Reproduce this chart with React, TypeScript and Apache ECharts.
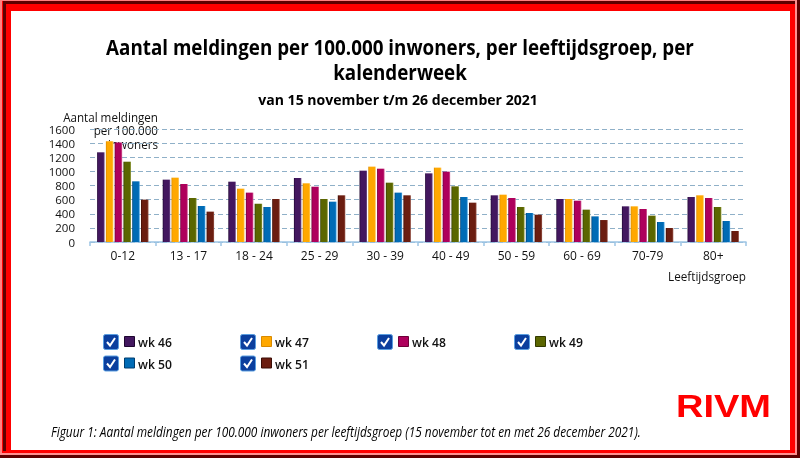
import React, { useEffect, useRef } from "react";
import * as echarts from "echarts";

const categories = ["0-12", "13 - 17", "18 - 24", "25 - 29", "30 - 39", "40 - 49", "50 - 59", "60 - 69", "70-79", "80+"];
const weeks = ["wk 46", "wk 47", "wk 48", "wk 49", "wk 50", "wk 51"];
const wk46 = [1270, 883, 854, 906, 1010, 972, 661, 609, 505, 637];
const wk47 = [1425, 911, 755, 831, 1067, 1053, 670, 609, 505, 661];
const wk48 = [1410, 821, 699, 783, 1038, 996, 623, 585, 467, 623];
const wk49 = [1137, 623, 543, 609, 840, 788, 496, 458, 373, 496];
const wk50 = [859, 510, 496, 571, 699, 637, 411, 363, 283, 297];
const wk51 = [600, 430, 609, 661, 661, 557, 387, 311, 198, 156];
const seriesValues = [wk46, wk47, wk48, wk49, wk50, wk51];
const colors = ["#43175f", "#ffa800", "#ae005c", "#5b6600", "#006bb5", "#6b1d10"];
const darkEdges = ["#1e0630", "#d98a00", "#6e0038", "#323a00", "#003d6e", "#3a0c05"];
const lightEdges = ["#7a5a92", "#ffd070", "#d76a9c", "#8e9a3a", "#4aa6e6", "#9a5a4e"];
const yTicks = { min: 0, max: 1600, interval: 200 };
const titleLine1 = "Aantal meldingen per 100.000 inwoners, per leeftijdsgroep, per";
const titleLine2 = "kalenderweek";
const subtitle = "van 15 november t/m 26 december 2021";
const yNameLines = ["Aantal meldingen", "per 100.000", "inwoners"];
const xName = "Leeftijdsgroep";
const footer = "Figuur 1: Aantal meldingen per 100.000 inwoners per leeftijdsgroep (15 november tot en met 26 december 2021).";
const logo = "RIVM";

function measure(text: string, font: string): number {
  const c = document.createElement("canvas").getContext("2d");
  if (!c) return text.length * 7;
  c.font = font;
  return c.measureText(text).width || text.length * 7;
}

function txt(text: string, x: number, y: number, opts: any) {
  const { size, weight = "normal", style = "normal", family = "'Open Sans'", align = "left", fill = "#111", scaleX = 1, z = 1 } = opts;
  return {
    type: "text",
    x,
    y,
    z,
    scaleX,
    style: {
      text,
      fontSize: size,
      fontWeight: weight,
      fontStyle: style,
      fontFamily: family,
      fill,
      textAlign: align,
      textVerticalAlign: "middle",
      align,
      verticalAlign: "middle",
    },
  };
}

export default function App() {
  const ref = useRef<HTMLDivElement>(null);
  useEffect(() => {
    if (!ref.current) return;
    const chart = echarts.init(ref.current, undefined, { renderer: "svg" });

    const titleScale = 588 / measure(titleLine1, "bold 21px 'Open Sans'");
    const subScale = 280 / measure(subtitle, "bold 15px 'Open Sans'");
    const yNameScale = 95 / measure(yNameLines[0], "normal 12.5px 'Open Sans'");
    const xNameScale = 78 / measure(xName, "normal 12.5px 'Open Sans'");
    const footScale = 590 / measure(footer, "italic normal 14px 'Open Sans'");
    const logoScale = 95 / measure(logo, "bold 32px 'Liberation Sans'");
    const legScale = 34 / measure(weeks[0], "600 13px 'Open Sans'");

    const frame = [
      { type: "rect", z: -10, shape: { x: 0, y: 0, width: 800, height: 458 }, style: { fill: "#ff0000" } },
      { type: "rect", z: -10, shape: { x: 0, y: 0, width: 800, height: 1 }, style: { fill: "#ff8080" } },
      { type: "rect", z: -10, shape: { x: 0, y: 0, width: 2, height: 458 }, style: { fill: "#ff8080" } },
      { type: "rect", z: -10, shape: { x: 3, y: 1, width: 792, height: 3 }, style: { fill: "#5e0000" } },
      { type: "rect", z: -10, shape: { x: 3, y: 1, width: 3, height: 450 }, style: { fill: "#5e0000" } },
      { type: "rect", z: -10, shape: { x: 0, y: 453, width: 797, height: 2 }, style: { fill: "#ff9090" } },
      { type: "rect", z: -10, shape: { x: 795, y: 0, width: 2, height: 455 }, style: { fill: "#ff9090" } },
      { type: "rect", z: -10, shape: { x: 0, y: 455, width: 800, height: 3 }, style: { fill: "#5e0000" } },
      { type: "rect", z: -10, shape: { x: 797, y: 0, width: 3, height: 458 }, style: { fill: "#5e0000" } },
      { type: "rect", z: -9, shape: { x: 11, y: 11, width: 779, height: 439 }, style: { fill: "#ffffff" } },
    ];

    const texts = [
      txt(titleLine1, 400, 47, { size: 21, weight: "bold", align: "center", scaleX: titleScale, fill: "#000" }),
      txt(titleLine2, 400, 72, { size: 21, weight: "bold", align: "center", scaleX: titleScale, fill: "#000" }),
      txt(subtitle, 398, 99, { size: 15, weight: "bold", align: "center", scaleX: subScale, fill: "#000" }),
      ...yNameLines.map((l, i) => txt(l, 158, 117 + i * 13.5, { size: 12.5, align: "right", scaleX: yNameScale, fill: "#111", z: 0 })),
      txt(xName, 746, 276, { size: 12.5, align: "right", scaleX: xNameScale }),
      txt(footer, 51, 432, { size: 14, style: "italic", align: "left", scaleX: footScale, fill: "#000" }),
      txt(logo, 676, 406, { size: 32, weight: "bold", family: "'Liberation Sans'", align: "left", scaleX: logoScale, fill: "#ff0000" }),
    ];

    const legend: any[] = [];
    weeks.forEach((w, i) => {
      const col = i % 4;
      const row = Math.floor(i / 4);
      const x = 103 + col * 137;
      const cy = 342 + row * 21.5;
      legend.push({ type: "rect", z: 1, shape: { x: x + 0.5, y: cy - 7.5, width: 15, height: 15, r: 2 }, style: { fill: "#0b3f9e", stroke: "#5a9ee0", lineWidth: 1 } });
      legend.push({ type: "polyline", z: 2, shape: { points: [[x + 4, cy], [x + 7, cy + 3.5], [x + 12, cy - 4]] }, style: { stroke: "#ffffff", lineWidth: 2, fill: null } });
      legend.push({ type: "rect", z: 1, shape: { x: x + 21.5, y: cy - 5.5, width: 10, height: 10 }, style: { fill: colors[i], stroke: darkEdges[i], lineWidth: 1 } });
      legend.push(txt(w, x + 35, cy + 0.5, { size: 13, weight: "600", align: "left", scaleX: legScale, fill: "#111" }));
    });

    const option: any = {
      animation: false,
      grid: { left: 90, right: 54, top: 129, bottom: 216, containLabel: false },
      xAxis: {
        type: "category",
        data: categories,
        axisLine: { show: true, lineStyle: { color: "#9cc4e4", width: 1.5 } },
        axisTick: { show: true, alignWithLabel: false, length: 4, lineStyle: { color: "#9cc4e4", width: 1.5 } },
        axisLabel: { color: "#111", fontSize: 12, fontFamily: "'Open Sans'", margin: 7 },
        splitLine: { show: false },
      },
      yAxis: {
        type: "value",
        min: yTicks.min,
        max: yTicks.max,
        interval: yTicks.interval,
        axisLine: { show: false },
        axisTick: { show: false },
        axisLabel: { color: "#111", fontSize: 11.5, fontFamily: "'Open Sans'", margin: 15, formatter: (v: number) => String(v) },
        splitLine: { show: true, lineStyle: { color: "#8fb0c8", width: 1.2, type: [5, 3] } },
      },
      series: weeks.map((w, i) => ({
        name: w,
        type: "bar",
        data: seriesValues[i],
        barWidth: 7.5,
        barGap: "17%",
        z: 2,
        itemStyle: {
          color: new echarts.graphic.LinearGradient(0, 0, 1, 0, [
            { offset: 0, color: darkEdges[i] },
            { offset: 0.18, color: colors[i] },
            { offset: 0.82, color: colors[i] },
            { offset: 1, color: lightEdges[i] },
          ]),
        },
      })),
      graphic: { elements: [...frame, ...texts, ...legend] },
    };
    chart.setOption(option);
    return () => chart.dispose();
  }, []);
  return <div ref={ref} style={{ position: "fixed", left: 0, top: 0, width: 800, height: 458 }} />;
}
